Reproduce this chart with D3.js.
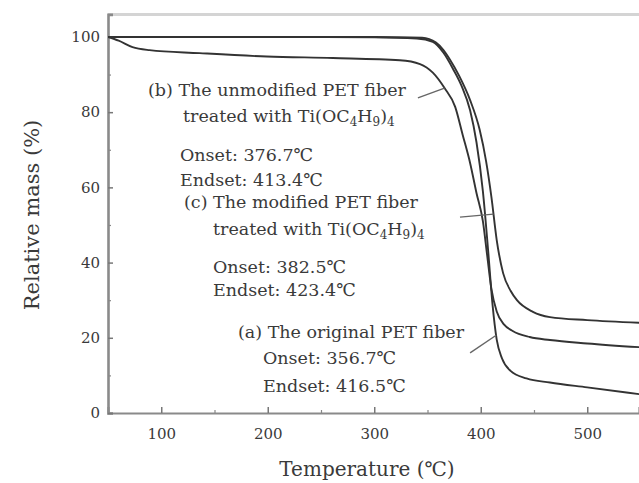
<!DOCTYPE html>
<html>
<head>
<meta charset="utf-8">
<script src="https://cdn.jsdelivr.net/npm/d3@7/dist/d3.min.js"></script>
<style>
  html, body { margin: 0; padding: 0; background: #fff; }
  svg { display: block; }
  text { font-family: "DejaVu Serif", "Liberation Serif", serif; fill: #3a3a3a; }
</style>
</head>
<body>
<svg id="chart" width="639" height="483"></svg>
<script>
// TGA curves: temperature (°C) and relative mass (%)
const tempA = [50, 100, 200, 300, 340, 355, 365, 374, 382, 390, 396, 402, 407, 411, 415, 420, 428, 443, 465, 500, 549];
const massA = [100, 100, 100, 99.9, 99.6, 98.7, 95.8, 91.5, 87, 80.5, 72, 59, 43, 29, 19.5, 14.5, 11.2, 9.2, 8.1, 6.8, 5.0];

const tempB = [50, 60, 73, 89, 136, 199, 261, 324, 343, 355, 366, 376, 383, 390, 396, 402, 406, 410, 415, 422, 430, 446, 465, 500, 549];
const massB = [100, 99, 97.3, 96.5, 95.7, 94.8, 94.4, 93.8, 92.8, 90.5, 86.4, 81.4, 74, 66.5, 58.5, 51, 42, 33, 27, 23.5, 21.8, 20.2, 19.4, 18.5, 17.5];

const tempC = [50, 100, 200, 300, 345, 358, 365, 371, 380, 390, 399, 405, 410, 415, 421, 428, 434, 449, 465, 500, 549];
const massC = [100, 100, 100, 100, 99.8, 98.5, 96.5, 94, 89.5, 83.2, 75.3, 67, 57.5, 46, 37.2, 32.5, 30, 26.9, 25.5, 24.7, 24];

const xTicks = [100, 200, 300, 400, 500];
const xMinorTicks = [50, 150, 250, 350, 450];
const yTicks = [0, 20, 40, 60, 80, 100];
const yMinorTicks = [10, 30, 50, 70, 90];

// Annotation blocks: lines of text, leader start (temp, mass) and the temperature where the leader meets its curve
const labelB = ["(b) The unmodified PET fiber", "treated with Ti(OC4H9)4", "Onset: 376.7℃", "Endset: 413.4℃"];
const labelC = ["(c) The modified PET fiber", "treated with Ti(OC4H9)4", "Onset: 382.5℃", "Endset: 423.4℃"];
const labelA = ["(a) The original PET fiber", "Onset: 356.7℃", "Endset: 416.5℃"];

const leaderStartB = [341, 83.8], leaderEndTempB = 366;
const leaderStartC = [380.5, 52.1], leaderEndTempC = 412;
const leaderStartA = [390, 16], leaderEndTempA = 414.5;

const svg = d3.select("#chart");

const x = d3.scaleLinear().domain([50, 548.6]).range([108, 639]);
const y = d3.scaleLinear().domain([0, 106]).range([413, 14.4]);

// top frame line
svg.append("line")
  .attr("x1", x.range()[0]).attr("x2", x.range()[1])
  .attr("y1", y.range()[1]).attr("y2", y.range()[1])
  .attr("stroke", "#d4d4d4").attr("stroke-width", 3);

// axes
const gx = svg.append("g").attr("transform", `translate(0,${y(0)})`)
  .call(d3.axisBottom(x).tickValues(xTicks).tickSize(-6).tickPadding(15).tickFormat(d3.format("d")));
gx.select(".domain").attr("stroke", "#8a8a8a").attr("stroke-width", 2.2);
gx.selectAll(".tick line").attr("stroke", "#777").attr("stroke-width", 1.5);
gx.selectAll(".tick text").attr("font-size", 15).attr("fill", "#3a3a3a")
  .attr("font-family", "DejaVu Serif, serif");

svg.append("g").attr("transform", `translate(0,${y(0)})`)
  .call(d3.axisBottom(x).tickValues(xMinorTicks).tickSize(-3).tickFormat(""))
  .call(g => g.select(".domain").remove())
  .selectAll(".tick line").attr("stroke", "#888").attr("stroke-width", 1.2);

const gy = svg.append("g").attr("transform", `translate(${x(50)},0)`)
  .call(d3.axisLeft(y).tickValues(yTicks).tickSize(-5).tickPadding(8).tickFormat(d3.format("d")));
gy.select(".domain").attr("stroke", "#8a8a8a").attr("stroke-width", 2.6);
gy.selectAll(".tick line").attr("stroke", "#777").attr("stroke-width", 1.5);
gy.selectAll(".tick text").attr("font-size", 15).attr("fill", "#3a3a3a")
  .attr("font-family", "DejaVu Serif, serif");

svg.append("g").attr("transform", `translate(${x(50)},0)`)
  .call(d3.axisLeft(y).tickValues(yMinorTicks).tickSize(-3).tickFormat(""))
  .call(g => g.select(".domain").remove())
  .selectAll(".tick line").attr("stroke", "#888").attr("stroke-width", 1.2);

// axis titles
svg.append("text")
  .attr("x", 367).attr("y", 476)
  .attr("text-anchor", "middle").attr("font-size", 20)
  .text("Temperature (℃)");

svg.append("text")
  .attr("transform", `translate(39,215) rotate(-90)`)
  .attr("text-anchor", "middle").attr("font-size", 21)
  .text("Relative mass (%)");

// curves
const line = d3.line().x(d => x(d[0])).y(d => y(d[1])).curve(d3.curveMonotoneX);
const series = [
  { name: "a", temp: tempA, mass: massA },
  { name: "b", temp: tempB, mass: massB },
  { name: "c", temp: tempC, mass: massC }
];
svg.append("clipPath").attr("id", "plot-clip")
  .append("rect").attr("x", x.range()[0]).attr("y", 0)
  .attr("width", x.range()[1] - x.range()[0]).attr("height", y(0));

series.forEach(s => {
  const pts = s.temp.map((t, i) => [t, s.mass[i]]);
  svg.append("path")
    .datum(pts)
    .attr("clip-path", "url(#plot-clip)")
    .attr("fill", "none")
    .attr("stroke", "#333")
    .attr("stroke-width", 1.9)
    .attr("d", line);
});

// mass of a series at a given temperature (linear between samples)
function massAt(temp, mass, t) {
  const i = d3.bisectLeft(temp, t);
  if (i <= 0) return mass[0];
  if (i >= temp.length) return mass[mass.length - 1];
  const f = (t - temp[i - 1]) / (temp[i] - temp[i - 1]);
  return mass[i - 1] + f * (mass[i] - mass[i - 1]);
}

// leaders from labels to curves
const leaders = [
  [leaderStartB, [leaderEndTempB, massAt(tempB, massB, leaderEndTempB)]],
  [leaderStartC, [leaderEndTempC, massAt(tempC, massC, leaderEndTempC)]],
  [leaderStartA, [leaderEndTempA, massAt(tempA, massA, leaderEndTempA)]]
];
leaders.forEach(([p0, p1]) => {
  svg.append("line")
    .attr("x1", x(p0[0])).attr("y1", y(p0[1]))
    .attr("x2", x(p1[0])).attr("y2", y(p1[1]))
    .attr("stroke", "#666").attr("stroke-width", 1.4);
});

// annotation text; "Ti(OC4H9)4" gets subscripts
function addLine(g, str, lx, ly) {
  const t = g.append("text").attr("x", lx).attr("y", ly).attr("font-size", 17.5);
  const m = str.match(/^(.*Ti\(OC)4H9\)4$/);
  if (m) {
    t.append("tspan").text(m[1]);
    t.append("tspan").attr("font-size", 12).attr("dy", 4).text("4");
    t.append("tspan").attr("dy", -4).text("H");
    t.append("tspan").attr("font-size", 12).attr("dy", 4).text("9");
    t.append("tspan").attr("dy", -4).text(")");
    t.append("tspan").attr("font-size", 12).attr("dy", 4).text("4");
  } else {
    t.text(str);
  }
}

const ann = svg.append("g");
const blockB = [[148, 96], [183, 122], [180, 161], [180, 186]];
labelB.forEach((s, i) => addLine(ann, s, blockB[i][0], blockB[i][1]));
const blockC = [[184, 208], [213, 235], [213, 273], [213, 296]];
labelC.forEach((s, i) => addLine(ann, s, blockC[i][0], blockC[i][1]));
const blockA = [[238, 338], [263, 364], [263, 392]];
labelA.forEach((s, i) => addLine(ann, s, blockA[i][0], blockA[i][1]));
</script>
</body>
</html>
